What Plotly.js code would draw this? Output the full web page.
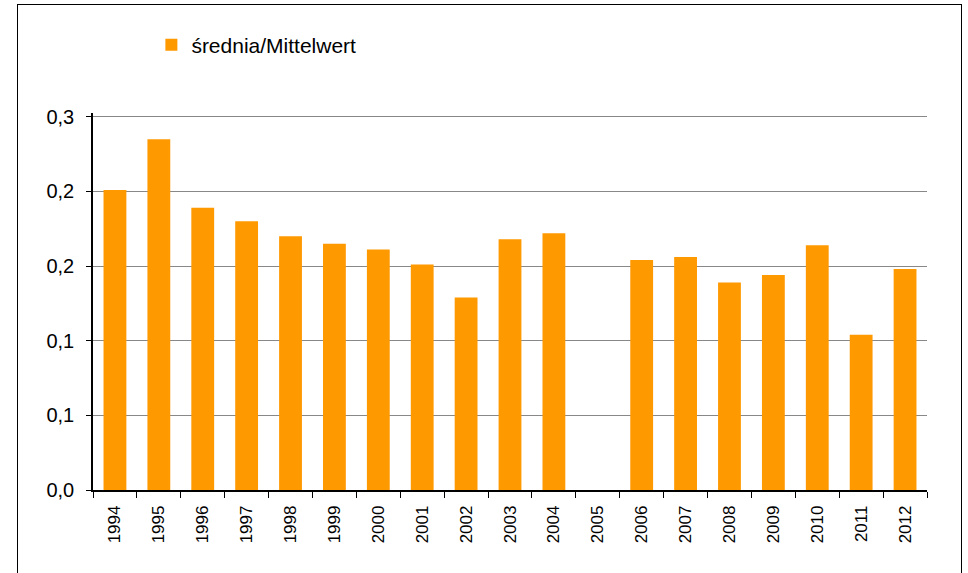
<!DOCTYPE html>
<html>
<head>
<meta charset="utf-8">
<script src="https://cdn.plot.ly/plotly-3.0.1.min.js"></script>
<style>
  html, body { margin: 0; padding: 0; background: #fff; }
  #chart { width: 968px; height: 573px; }
  #frame { position: absolute; left: 17px; top: 4px; width: 943px; height: 600px;
           border: 1.5px solid #000; pointer-events: none; }
</style>
</head>
<body>
<div id="chart"></div>
<div id="frame"></div>
<script>
const years = ["1994","1995","1996","1997","1998","1999","2000","2001","2002","2003","2004","2005","2006","2007","2008","2009","2010","2011","2012"];
const mean = [0.201,0.235,0.189,0.180,0.170,0.165,0.161,0.151,0.129,0.168,0.172,null,0.154,0.156,0.139,0.144,0.164,0.104,0.148];
const yTickVals = [0, 0.05, 0.10, 0.15, 0.20, 0.25];
const yTickText = ["0,0","0,1","0,1","0,2","0,2","0,3"];
const seriesName = "średnia/Mittelwert";

Plotly.newPlot("chart", [{
  type: "bar",
  x: years,
  y: mean,
  name: seriesName,
  marker: { color: "#FF9900" },
  showlegend: true
}], {
  width: 968, height: 573,
  margin: { l: 93, r: 41, t: 113, b: 83, autoexpand: false },
  paper_bgcolor: "#fff",
  plot_bgcolor: "#fff",
  bargap: 0.48,
  font: { family: "Liberation Sans, Arial, sans-serif", color: "#000" },
  showlegend: true,
  legend: { x: 0.07, y: 1.18, xanchor: "left", yanchor: "middle", orientation: "h",
            font: { size: 21 }, bgcolor: "rgba(0,0,0,0)" },
  xaxis: {
    type: "category",
    tickangle: -90,
    tickfont: { size: 17 },
    ticks: "outside", ticklen: 6, tickcolor: "#000",
    tickson: "boundaries",
    ticklabelstandoff: 7,
    showline: true, linecolor: "#000", linewidth: 1.5,
    showgrid: false
  },
  yaxis: {
    range: [0, 0.2525],
    tickvals: yTickVals,
    ticktext: yTickText,
    tickfont: { size: 20 },
    ticks: "outside", ticklen: 5, tickcolor: "#000",
    ticklabelstandoff: 8,
    showline: true, linecolor: "#000", linewidth: 1.5,
    showgrid: true, gridcolor: "#888", gridwidth: 1,
    zeroline: false
  }
}, { displayModeBar: false });
</script>
</body>
</html>
